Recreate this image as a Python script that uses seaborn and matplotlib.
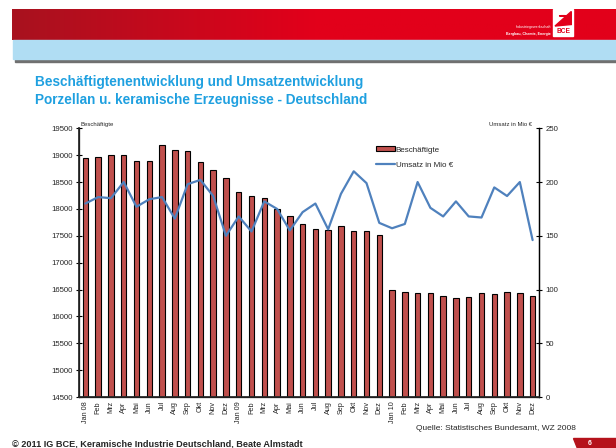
import numpy as np
import pandas as pd
import matplotlib
matplotlib.use("Agg")
import matplotlib.pyplot as plt
import seaborn as sns
from matplotlib.patches import Rectangle, Polygon
from matplotlib.lines import Line2D
from matplotlib.patches import Patch

sns.set_theme(style="white")
plt.rcParams["font.family"] = ["Liberation Sans", "DejaVu Sans"]

# ----------------------------------------------------------
# data (monthly, Jan 2008 - Dec 2010)
# ----------------------------------------------------------
monate = ["Jan 08", "Feb", "Mrz", "Apr", "Mai", "Jun", "Jul", "Aug", "Sep", "Okt", "Nov", "Dez",
          "Jan 09", "Feb", "Mrz", "Apr", "Mai", "Jun", "Jul", "Aug", "Sep", "Okt", "Nov", "Dez",
          "Jan 10", "Feb", "Mrz", "Apr", "Mai", "Jun", "Jul", "Aug", "Sep", "Okt", "Nov", "Dez"]

beschaeftigte = [18945, 18970, 19010, 19000, 18900, 18890, 19190, 19095, 19085, 18877, 18716, 18574,
                 18320, 18235, 18210, 17995, 17865, 17710, 17628, 17612, 17685, 17590, 17590, 17512,
                 16500, 16450, 16438, 16438, 16375, 16338, 16362, 16438, 16425, 16450, 16438, 16375]

umsatz = [180, 186, 185, 200, 177, 184, 186, 166, 198, 202, 187, 150,
          168, 154, 182, 175, 155, 172, 180, 156, 189, 210, 199, 162,
          157, 161, 200, 176, 168, 182, 168, 167, 195, 187, 200, 146]

df = pd.DataFrame({"idx": np.arange(len(monate)), "monat": monate,
                   "beschaeftigte": beschaeftigte, "umsatz": umsatz})

bar_col = "#C0504D"
line_col = "#4F81BD"
title_col = "#1FA0E0"

fig = plt.figure(figsize=(6.16, 4.48), dpi=100)

# ---- slide header: red gradient banner, light blue band, grey rule
hdr = fig.add_axes([12/616, 1-40/448, 1-12/616, 31/448])
grad = np.linspace(0, 1, 256).reshape(1, -1)
cmap = matplotlib.colors.LinearSegmentedColormap.from_list("g", ["#A8121F", "#E2001A", "#E2001A"])
hdr.imshow(grad, aspect="auto", cmap=cmap, extent=[0, 1, 0, 1])
hdr.set_xlim(0, 1); hdr.set_ylim(0, 1); hdr.axis("off")
hdr.add_patch(Rectangle((0.896, 0.13), 0.033, 0.87, color="white"))
hdr.text(0.9125, 0.16, "BCE", color="#E2001A", fontsize=4.8, fontweight="bold", ha="center", va="bottom")
hdr.add_patch(Polygon([[0.899, 0.45], [0.926, 0.92], [0.926, 0.5]], color="#E2001A"))
hdr.add_patch(plt.Circle((0.912, 0.78), 0.006, color="#E2001A"))
hdr.text(0.892, 0.38, "Industriegewerkschaft", color="white", fontsize=2.6, ha="right")
hdr.text(0.892, 0.17, "Bergbau, Chemie, Energie", color="white", fontsize=2.6, ha="right", fontweight="bold")

fig.add_artist(Rectangle((15/616, 1-62/448), 1-15/616, 3/448, transform=fig.transFigure, color="#707070"))
fig.add_artist(Rectangle((13/616, 1-59/448), 1-13/616, 18.5/448, transform=fig.transFigure, color="#B0DDF3"))

# ---- titles
fig.text(35/616, 1-82/448, "Beschäftigtenentwicklung und Umsatzentwicklung",
         color=title_col, fontsize=9.8, fontweight="bold", va="center")
fig.text(35/616, 1-100/448, "Porzellan u. keramische Erzeugnisse - Deutschland",
         color=title_col, fontsize=9.8, fontweight="bold", va="center")

# ---- chart
ax = fig.add_axes([79/616, 1-397/448, 460/616, 268.7/448])
sns.barplot(data=df, x="idx", y="beschaeftigte", color=bar_col, width=0.42,
            edgecolor="black", linewidth=0.8, saturation=1, ax=ax)
ax.set_ylim(14500, 19500)
ax.set_xlim(-0.5, len(monate) - 0.5)
ax.set_yticks(np.arange(14500, 19501, 500))
ax.set_xticks(np.arange(len(monate)))
ax.set_xticklabels(monate, rotation=90, fontsize=5.2)
ax.set_xticks(np.arange(-0.5, len(monate)), minor=True)
ax.tick_params(axis="x", which="major", length=0, pad=3)
ax.tick_params(axis="x", which="minor", length=4, direction="inout", width=0.8, color="black")
ax.tick_params(axis="y", length=5, direction="inout", width=0.8, color="black", labelsize=5.6, pad=2)
ax.set_xlabel(""); ax.set_ylabel("")
for s in ["left", "bottom", "right"]:
    ax.spines[s].set_color("black"); ax.spines[s].set_linewidth(0.9)
ax.spines["top"].set_visible(False)
ax.text(0.003, 1.005, "Beschäftigte", transform=ax.transAxes, fontsize=4.3, va="bottom")

ax2 = ax.twinx()
sns.lineplot(data=df, x="idx", y="umsatz", color=line_col, linewidth=1.6, ax=ax2)
ax2.set_ylim(0, 250)
ax2.set_yticks(np.arange(0, 251, 50))
ax2.tick_params(axis="y", length=5, direction="inout", width=0.8, color="black", labelsize=5.6, pad=2)
ax2.set_xlabel(""); ax2.set_ylabel("")
ax2.spines["top"].set_visible(False)
ax2.spines["right"].set_color("black"); ax2.spines["right"].set_linewidth(0.9)
ax2.text(0.985, 1.005, "Umsatz in Mio €", transform=ax2.transAxes, fontsize=4.3, va="bottom", ha="right")

handles = [Patch(facecolor=bar_col, edgecolor="black", linewidth=0.8),
           Line2D([0], [0], color=line_col, linewidth=1.6)]
ax2.legend(handles, ["Beschäftigte", "Umsatz in Mio €"], loc="upper left",
           bbox_to_anchor=(0.63, 0.96), frameon=False, fontsize=5.8,
           handlelength=2.3, handleheight=0.6, handletextpad=0.15, labelspacing=0.95)

# ---- footer
fig.text(416/616, 1-428/448, "Quelle: Statistisches Bundesamt, WZ 2008", fontsize=6.0, va="center")
fig.text(12/616, 1-444/448, "© 2011 IG BCE, Keramische Industrie Deutschland, Beate Almstadt",
         fontsize=6.6, fontweight="bold", va="center")
fig.add_artist(Polygon([[573/616, 1-438/448], [1, 1-438/448], [1, 0], [577/616, 0]],
                       closed=True, transform=fig.transFigure, color="#B5121B"))
fig.text(590/616, 1-443/448, "6", color="white", fontsize=5.0, fontweight="bold", va="center", ha="center")

fig.savefig("out.png", dpi=100)
